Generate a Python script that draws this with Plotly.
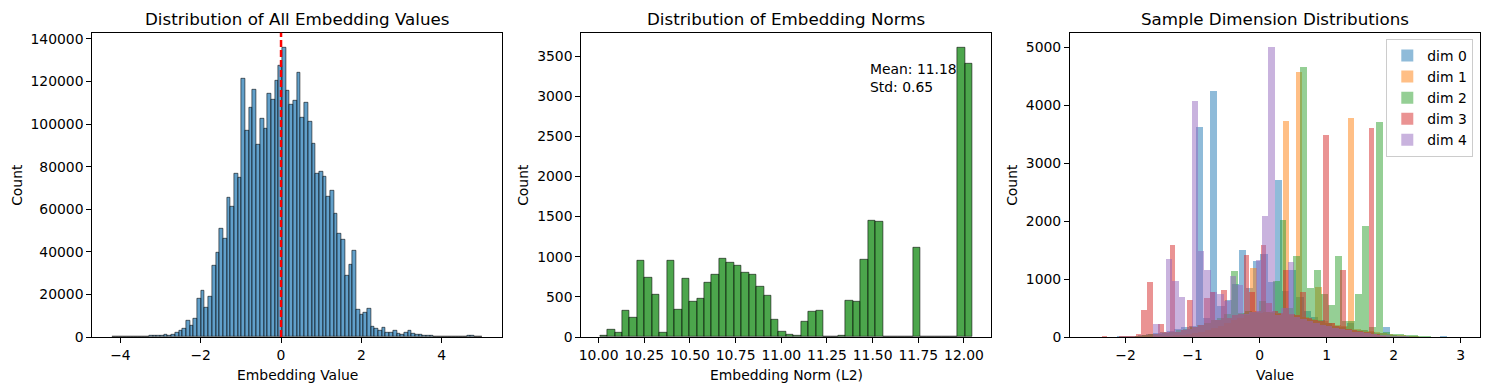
import numpy as np
import plotly.graph_objects as go

# ---------------- data ----------------
# Panel 1: distribution of all embedding values (100 bins)
value_bin_start = -4.20
value_bin_width = 0.092
value_counts = [
    150, 30, 0, 10, 20, 30, 40, 60, 100, 150,
    400, 400, 450, 500, 900, 500, 1100, 2000, 3000, 3800,
    7800, 5170, 8770, 18170, 21770, 13620, 19100, 33670, 39780, 50900,
    46040, 65600, 61390, 76890, 75010, 121370, 97090, 107900, 116350, 90510,
    102570, 97720, 114470, 111660, 120580, 127300, 136090, 115880, 109150, 111030,
    124340, 103200, 110250, 101160, 90980, 76890, 77830, 75480, 65770, 68900,
    58100, 48390, 45570, 28970, 34140, 40720, 13000, 10340, 11590, 13310,
    4700, 3760, 3130, 4540, 2190, 2040, 2980, 1410, 1250, 2040,
    2820, 1410, 940, 940, 630, 470, 470, 300, 150, 100,
    50, 50, 30, 20, 10, 80, 470, 470, 50, 30,
]
value_mean = 0.0

# Panel 2: distribution of embedding norms (50 bins)
norm_bin_start = 10.0073
norm_bin_width = 0.04078
norm_counts = [
    20, 95, 58, 332, 245, 955, 743, 531, 58, 955,
    345, 731, 444, 482, 681, 781, 980, 930, 893, 806,
    781, 631, 519, 220, 71, 25, 12, 195, 320, 332,
    0, 0, 12, 457, 444, 968, 1453, 1441, 0, 0,
    0, 0, 1117, 0, 0, 0, 0, 0, 3605, 3410,
]
norm_mean = 11.18
norm_std = 0.65
norm_ticks = [10.0, 10.25, 10.5, 10.75, 11.0, 11.25, 11.5, 11.75, 12.0]

# Panel 3: sample dimension distributions (50 bins each)
dim_names = ["dim 0", "dim 1", "dim 2", "dim 3", "dim 4"]
dim_bin_starts = [-2.56, -2.27, -2.38, -2.358, -1.588]
dim_bin_widths = [0.1072, 0.097, 0.103, 0.0848, 0.0955]
dim0_counts = [
    1, 0, 5, 10, 15, 20, 30, 40, 50, 70,
    90, 110, 140, 170, 200, 3622, 330, 4249, 540, 640,
    920, 1503, 850, 1313, 1446, 950, 2712, 800, 1157, 700,
    450, 350, 300, 250, 200, 180, 250, 130, 120, 100,
    80, 170, 40, 30, 20, 15, 10, 5, 3, 15,
]
dim1_counts = [
    1, 0, 2, 3, 5, 8, 10, 15, 20, 25,
    35, 45, 60, 80, 100, 130, 160, 200, 250, 300,
    340, 380, 1200, 420, 430, 420, 400, 3730, 380, 4582,
    350, 320, 863, 280, 250, 220, 190, 3794, 150, 130,
    110, 90, 75, 60, 45, 35, 25, 15, 10, 5,
]
dim2_counts = [
    0, 0, 2, 5, 5, 30, 40, 50, 60, 80,
    100, 120, 150, 180, 210, 250, 300, 330, 400, 1140,
    420, 450, 430, 620, 440, 980, 2020, 500, 1410, 4658,
    858, 1157, 750, 560, 1399, 280, 280, 742, 1917, 170,
    3719, 90, 60, 55, 45, 35, 25, 15, 10, 5,
]
dim3_counts = [
    15, 5, 10, 15, 20, 30, 50, 470, 950, 60,
    230, 90, 1590, 100, 120, 640, 180, 220, 670, 790,
    300, 810, 330, 380, 400, 1420, 790, 450, 1590, 600,
    450, 420, 1169, 400, 380, 790, 330, 300, 280, 3500,
    240, 200, 1160, 150, 130, 110, 90, 3620, 50, 30,
]
dim4_counts = [
    224, 80, 1359, 967, 696, 150, 4076, 1485, 1157, 780,
    750, 630, 1050, 910, 400, 430, 1340, 2090, 5014, 380,
    500, 1295, 350, 320, 280, 250, 220, 190, 160, 140,
    120, 100, 85, 70, 55, 45, 35, 25, 20, 15,
    10, 8, 5, 4, 3, 2, 1, 1, 0, 1,
]
dim_counts = [dim0_counts, dim1_counts, dim2_counts, dim3_counts, dim4_counts]
dim_colors = ["31,119,180", "255,127,14", "44,160,44", "214,39,40", "148,103,189"]

# ---------------- figure ----------------
W, H = 1489, 390
FONT = "DejaVu Sans"


def centers(start, width, n):
    return start + width * (np.arange(n) + 0.5)


fig = go.Figure()

fig.add_trace(go.Bar(
    x=centers(value_bin_start, value_bin_width, len(value_counts)),
    y=value_counts, width=value_bin_width,
    marker=dict(color="rgba(31,119,180,0.7)",
                line=dict(color="rgba(0,0,0,0.7)", width=0.8)),
    xaxis="x", yaxis="y", showlegend=False,
))

fig.add_trace(go.Bar(
    x=centers(norm_bin_start, norm_bin_width, len(norm_counts)),
    y=norm_counts, width=norm_bin_width,
    marker=dict(color="rgba(0,128,0,0.7)",
                line=dict(color="rgba(0,0,0,0.7)", width=0.8)),
    xaxis="x2", yaxis="y2", showlegend=False,
))

for name, start, width, counts, col in zip(dim_names, dim_bin_starts, dim_bin_widths,
                                           dim_counts, dim_colors):
    fig.add_trace(go.Bar(
        x=centers(start, width, len(counts)), y=counts, width=width,
        marker=dict(color=f"rgba({col},0.5)", line=dict(width=0)),
        name=name, xaxis="x3", yaxis="y3", showlegend=True,
    ))

# axes geometry (pixels)
ax_top, ax_bot = 32.7, 337.0
panels_x = [(92.3, 502.3), (581.3, 991.0), (1070.0, 1480.0)]
ydom = [(H - ax_bot) / H, (H - ax_top) / H]

axis_common = dict(
    showline=True, mirror=True, linecolor="black", linewidth=1,
    ticks="outside", ticklen=5, tickwidth=1, tickcolor="black",
    showgrid=False, zeroline=False, automargin=False,
    tickfont=dict(family=FONT, size=13.9, color="black"),
)

fig.update_layout(
    template="none",
    width=W, height=H,
    margin=dict(l=0, r=0, t=0, b=0, pad=0, autoexpand=False),
    paper_bgcolor="white", plot_bgcolor="white",
    barmode="overlay", bargap=0,
    font=dict(family=FONT, color="black"),
    xaxis=dict(domain=[panels_x[0][0] / W, panels_x[0][1] / W], anchor="y",
               range=[-4.70, 5.51], tickvals=[-4, -2, 0, 2, 4], **axis_common),
    yaxis=dict(domain=ydom, anchor="x", range=[0, 142950],
               tickvals=list(range(0, 140001, 20000)), tickformat="d", **axis_common),
    xaxis2=dict(domain=[panels_x[1][0] / W, panels_x[1][1] / W], anchor="y2",
                range=[9.905, 12.148], tickvals=norm_ticks,
                ticktext=[f"{t:.2f}" for t in norm_ticks], **axis_common),
    yaxis2=dict(domain=ydom, anchor="x2", range=[0, 3791],
                tickvals=list(range(0, 3501, 500)), tickformat="d", **axis_common),
    xaxis3=dict(domain=[panels_x[2][0] / W, panels_x[2][1] / W], anchor="y3",
                range=[-2.83, 3.29], tickvals=[-2, -1, 0, 1, 2, 3], **axis_common),
    yaxis3=dict(domain=ydom, anchor="x3", range=[0, 5253],
                tickvals=list(range(0, 5001, 1000)), tickformat="d", **axis_common),
    legend=dict(x=1473.3 / W, xanchor="right", y=(H - 39) / H, yanchor="top",
                bgcolor="rgba(255,255,255,0.8)", bordercolor="#cccccc", borderwidth=1,
                font=dict(family=FONT, size=13.9, color="black"),
                tracegroupgap=0, itemwidth=30),
)

# mean line in panel 1
fig.add_shape(type="line", xref="x", yref="y domain", x0=value_mean, x1=value_mean,
              y0=0, y1=1, line=dict(color="red", width=2.5, dash="7px,3px"))

titles = ["Distribution of All Embedding Values", "Distribution of Embedding Norms",
          "Sample Dimension Distributions"]
xlabels = ["Embedding Value", "Embedding Norm (L2)", "Value"]
ylabel_x = [17, 523, 1012]
for (x0, x1), t, xl, yx in zip(panels_x, titles, xlabels, ylabel_x):
    cx = (x0 + x1) / 2 / W
    fig.add_annotation(text=t, x=cx, y=(H - 18.5) / H, xref="paper", yref="paper",
                       showarrow=False, xanchor="center", yanchor="middle",
                       font=dict(family=FONT, size=16.7, color="black"))
    fig.add_annotation(text=xl, x=cx, y=(H - 375) / H, xref="paper", yref="paper",
                       showarrow=False, xanchor="center", yanchor="middle",
                       font=dict(family=FONT, size=13.9, color="black"))
    fig.add_annotation(text="Count", x=yx / W, y=(H - (ax_top + ax_bot) / 2) / H,
                       xref="paper", yref="paper", textangle=-90,
                       showarrow=False, xanchor="center", yanchor="middle",
                       font=dict(family=FONT, size=13.9, color="black"))

# stats text in panel 2
fig.add_annotation(text=f"Mean: {norm_mean:.2f}<br>Std: {norm_std:.2f}",
                   x=0.70, y=0.915, xref="x2 domain", yref="y2 domain",
                   showarrow=False, xanchor="left", yanchor="top", align="left",
                   font=dict(family=FONT, size=13.9, color="black"))

fig.write_html("out.html",
               config={"displayModeBar": False},
               post_script="document.body.style.margin='0';document.body.style.padding='0';")
